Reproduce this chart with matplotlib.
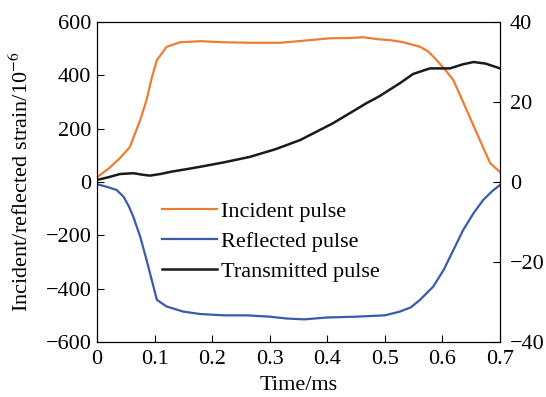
import numpy as np
import matplotlib.pyplot as plt

plt.rcParams['font.family'] = ['Liberation Serif', 'DejaVu Serif']
plt.rcParams['mathtext.fontset'] = 'stix'

# incident pulse (left axis, microstrain)
t_inc = [0.0, 0.005, 0.02, 0.04, 0.057, 0.075, 0.086, 0.095, 0.104, 0.121, 0.144,
         0.18, 0.22, 0.27, 0.318, 0.36, 0.405, 0.44, 0.462, 0.49, 0.509, 0.53,
         0.561, 0.575, 0.59, 0.605, 0.619, 0.642, 0.665, 0.683, 0.7]
incident = [18, 26, 50, 90, 131, 232, 307, 390, 457, 507, 524,
            528, 524, 522, 522, 530, 539, 540, 543, 535, 532, 525,
            507, 490, 457, 420, 382, 270, 157, 70, 38]

# reflected pulse (left axis)
t_ref = [0.0, 0.005, 0.02, 0.034, 0.046, 0.055, 0.063, 0.075, 0.086, 0.095, 0.104,
         0.121, 0.15, 0.179, 0.22, 0.26, 0.3, 0.33, 0.36, 0.4, 0.45, 0.5, 0.526,
         0.545, 0.561, 0.584, 0.602, 0.619, 0.636, 0.654, 0.671, 0.686, 0.7]
reflected = [-8, -11, -20, -30, -55, -90, -130, -205, -292, -367, -442,
             -467, -486, -495, -500, -500, -505, -512, -515, -508, -505, -500, -486,
             -470, -442, -392, -330, -255, -180, -117, -67, -35, -11]

# transmitted pulse (right axis)
t_tra = [0.0, 0.02, 0.04, 0.063, 0.08, 0.092, 0.11, 0.13, 0.155, 0.179, 0.22,
         0.266, 0.31, 0.353, 0.41, 0.468, 0.49, 0.526, 0.549, 0.578, 0.613, 0.635,
         0.654, 0.675, 0.7]
transmitted = [0.5, 1.2, 2.0, 2.2, 1.8, 1.6, 2.0, 2.6, 3.2, 3.8, 4.9,
               6.3, 8.2, 10.5, 14.7, 19.7, 21.4, 24.7, 27.0, 28.4, 28.4, 29.4,
               30.0, 29.6, 28.4]

fig = plt.figure(figsize=(5.46, 3.97), dpi=100)
ax = fig.add_axes([0.1777, 0.1385, 0.7381, 0.8061])
ax2 = ax.twinx()

l1, = ax.plot(t_inc, incident, color='#ED7D31', lw=1.6, label='Incident pulse')
l2, = ax.plot(t_ref, reflected, color='#3A5BA8', lw=1.6, label='Reflected pulse')
l3, = ax2.plot(t_tra, transmitted, color='#1a1a1a', lw=1.8, label='Transmitted pulse')

ax.set_xlim(0, 0.7)
ax.set_ylim(-600, 600)
ax2.set_ylim(-40, 40)
ax.set_xticks(np.arange(0, 0.71, 0.1))
ax.set_xticklabels(['0', '0.1', '0.2', '0.3', '0.4', '0.5', '0.6', '0.7'])
ax.set_yticks(np.arange(-600, 601, 200))
ax.set_yticklabels([str(v).replace('-', '\u2212') for v in range(-600, 601, 200)])
ax2.set_yticks([-40, -20, 0, 20, 40])
ax2.set_yticklabels(['\u221240', '\u221220', '0', '20', '40'])

ax.tick_params(axis='y', direction='in', length=5, labelsize=16, pad=4)
ax.tick_params(axis='x', direction='in', length=5, labelsize=16, pad=6)
ax2.tick_params(direction='in', length=5, labelsize=16, pad=7)

ax.set_xlabel('Time/ms', fontsize=16, labelpad=5)
ax.set_ylabel(r'Incident/reflected strain/10$^{-6}$', fontsize=16, labelpad=9)

ax2.legend(handles=[l1, l2, l3], loc='upper left', bbox_to_anchor=(0.161, 0.44),
           frameon=False, fontsize=16, handlelength=2.5, handletextpad=0.18,
           labelspacing=0.42, borderpad=0, borderaxespad=0)

fig.savefig('out.png', dpi=100)
